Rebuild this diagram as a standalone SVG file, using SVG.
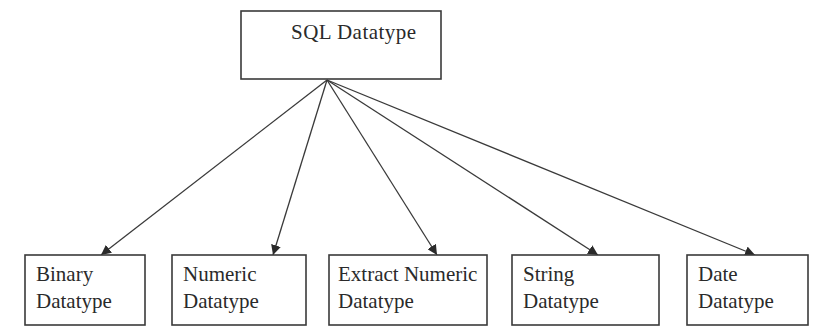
<svg xmlns="http://www.w3.org/2000/svg" width="826" height="336" viewBox="0 0 826 336">
<style>
.box{fill:#fff;stroke:#3a3a3a;stroke-width:1.6}
.t{font-family:"Liberation Serif","DejaVu Serif",serif;font-size:21px;fill:#2a2a2a}
.c{stroke:#3a3a3a;stroke-width:1.3;fill:none;marker-end:url(#ah)}
</style>
<defs>
<marker id="ah" viewBox="0 0 10 10" refX="10" refY="5" markerWidth="10" markerHeight="10" markerUnits="userSpaceOnUse" orient="auto">
<path d="M0,0 L10,5 L0,10 z" fill="#2a2a2a"/>
</marker>
</defs>
<rect width="826" height="336" fill="#fff"/>
<g id="connectors">
<line class="c" x1="327" y1="80" x2="101" y2="255"/>
<line class="c" x1="327" y1="80" x2="273" y2="255"/>
<line class="c" x1="327" y1="80" x2="437" y2="255"/>
<line class="c" x1="327" y1="80" x2="598" y2="255"/>
<line class="c" x1="327" y1="80" x2="755" y2="255"/>
</g>
<g id="sql-datatype">
<rect class="box" x="241" y="11" width="200" height="68"/>
<text class="t" x="291" y="39" font-size="22" textLength="125" lengthAdjust="spacing">SQL Datatype</text>
</g>
<g id="binary">
<rect class="box" x="25" y="255" width="120" height="70"/>
<text class="t" x="36" y="281">Binary</text>
<text class="t" x="36" y="308">Datatype</text>
</g>
<g id="numeric">
<rect class="box" x="172" y="255" width="134" height="70"/>
<text class="t" x="183" y="281">Numeric</text>
<text class="t" x="183" y="308">Datatype</text>
</g>
<g id="extract-numeric">
<rect class="box" x="329" y="255" width="158" height="70"/>
<text class="t" x="338" y="281">Extract Numeric</text>
<text class="t" x="338" y="308">Datatype</text>
</g>
<g id="string">
<rect class="box" x="512" y="255" width="147" height="70"/>
<text class="t" x="523" y="281">String</text>
<text class="t" x="523" y="308">Datatype</text>
</g>
<g id="date">
<rect class="box" x="687" y="255" width="121" height="70"/>
<text class="t" x="698" y="281">Date</text>
<text class="t" x="698" y="308">Datatype</text>
</g>
</svg>
